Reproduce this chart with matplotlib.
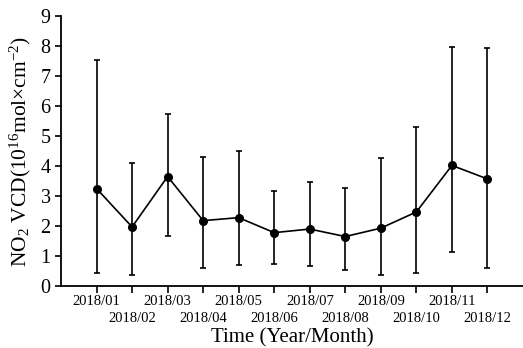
"""Monthly NO2 vertical column density with min/max ranges, 2018."""

import matplotlib
matplotlib.use("Agg")
import matplotlib.pyplot as plt

months = ["2018/01", "2018/02", "2018/03", "2018/04", "2018/05", "2018/06",
          "2018/07", "2018/08", "2018/09", "2018/10", "2018/11", "2018/12"]
mean_vcd = [3.25, 1.97, 3.65, 2.18, 2.28, 1.78, 1.90, 1.65, 1.93, 2.47, 4.02, 3.57]
upper_vcd = [7.55, 4.10, 5.75, 4.30, 4.50, 3.17, 3.47, 3.28, 4.28, 5.30, 7.97, 7.93]
lower_vcd = [0.45, 0.37, 1.68, 0.60, 0.71, 0.74, 0.67, 0.53, 0.37, 0.45, 1.15, 0.60]

plt.rcParams["font.family"] = ["Liberation Serif", "DejaVu Serif"]
plt.rcParams["mathtext.fontset"] = "custom"
plt.rcParams["mathtext.rm"] = "Liberation Serif"
plt.rcParams["mathtext.it"] = "Liberation Serif:italic"

fig = plt.figure(figsize=(5.23, 3.48), dpi=100)
ax = fig.add_axes([0.1166, 0.178, 0.8834, 0.776])

x = list(range(1, len(months) + 1))
err_lo = [m - lo for m, lo in zip(mean_vcd, lower_vcd)]
err_hi = [hi - m for m, hi in zip(mean_vcd, upper_vcd)]

ax.errorbar(x, mean_vcd, yerr=[err_lo, err_hi], color="black", lw=1.2,
            elinewidth=1.2, capsize=2.5, capthick=1.2, marker="o",
            markersize=5.5)

ax.set_xlim(0, 13)
ax.set_ylim(0, 9)
ax.set_yticks(range(10))
ax.tick_params(axis="y", labelsize=14.5, width=1.2, length=4, direction="out")

# odd months on major ticks (upper row), even months on minor ticks (lower row)
ax.set_xticks(x[0::2])
ax.set_xticklabels(months[0::2])
ax.set_xticks(x[1::2], minor=True)
ax.set_xticklabels(months[1::2], minor=True)
ax.tick_params(axis="x", which="major", labelsize=10.5, width=1.2, length=5,
               direction="out", pad=1.5)
ax.tick_params(axis="x", which="minor", labelsize=10.5, width=1.2, length=5,
               direction="out", pad=14)

for side in ("top", "right"):
    ax.spines[side].set_visible(False)
for side in ("left", "bottom"):
    ax.spines[side].set_linewidth(1.3)

ax.set_xlabel("Time (Year/Month)", fontsize=15)
ax.xaxis.set_label_coords(0.5, -0.158)
ax.set_ylabel(r"NO$_2$ VCD(10$^{16}$mol×cm$^{-2}$)", fontsize=15.5, labelpad=5)

fig.savefig("out.png", dpi=100)
